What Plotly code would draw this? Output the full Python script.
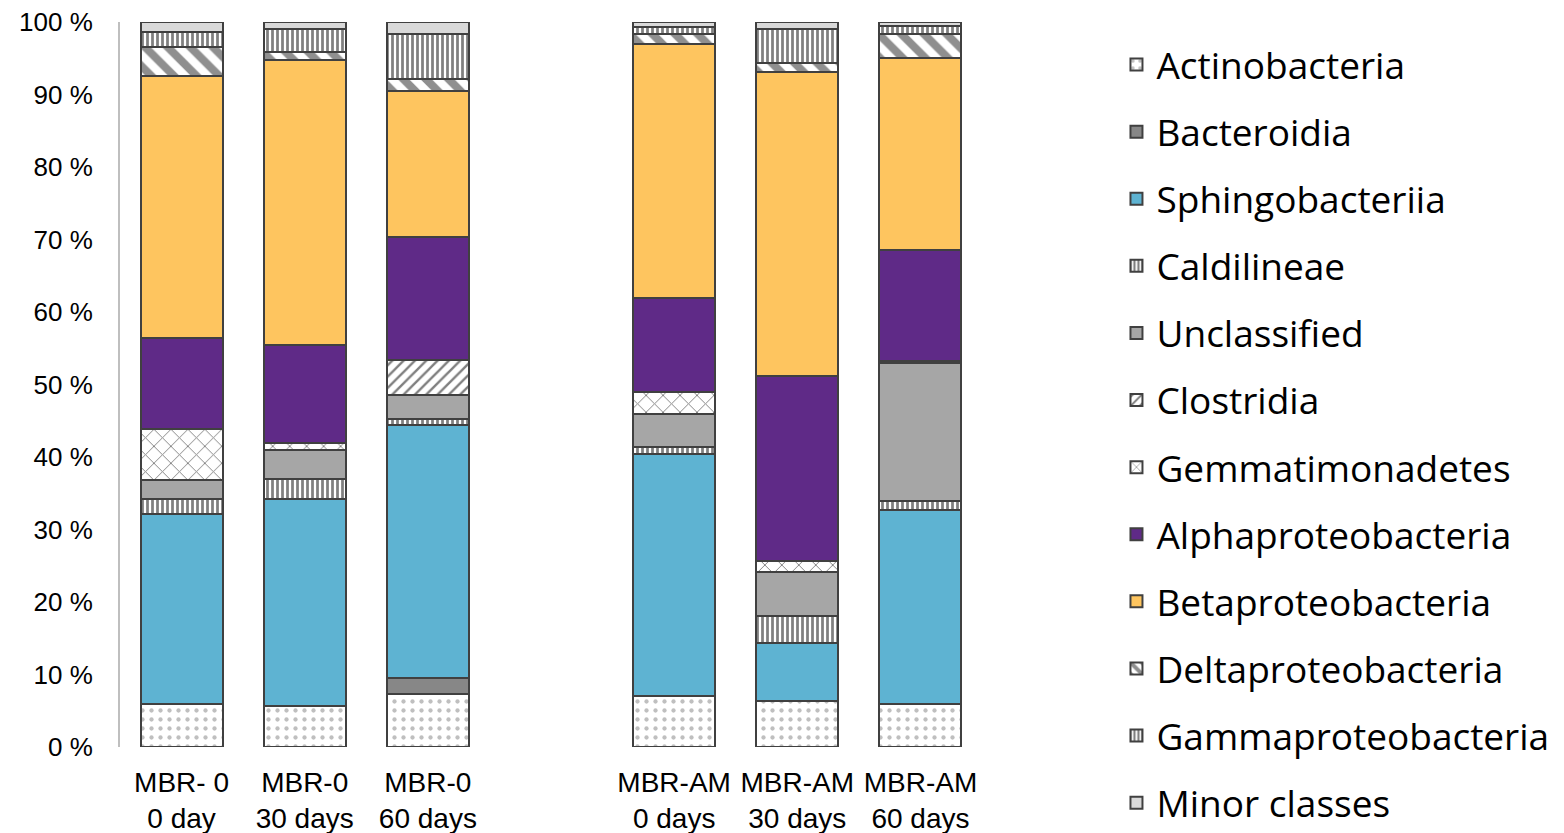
import plotly.graph_objects as go

categories = ["MBR- 0<br>0 day", "MBR-0<br>30 days", "MBR-0<br>60 days", " ",
              "MBR-AM<br>0 days", "MBR-AM<br>30 days", "MBR-AM<br>60 days"]
samples = ["MBR- 0<br>0 day", "MBR-0<br>30 days", "MBR-0<br>60 days",
           "MBR-AM<br>0 days", "MBR-AM<br>30 days", "MBR-AM<br>60 days"]

actinobacteria = [5.9, 5.6, 7.3, 7.0, 6.4, 5.9]
bacteroidia = [0.0, 0.0, 2.2, 0.0, 0.0, 0.0]
sphingobacteriia = [26.3, 28.6, 34.9, 33.4, 8.0, 26.8]
caldilineae = [2.0, 2.7, 0.9, 1.0, 3.7, 1.2]
unclassified = [2.6, 4.1, 3.3, 4.5, 6.0, 19.0]
clostridia = [0.0, 0.0, 4.8, 0.0, 0.0, 0.0]
gemmatimonadetes = [7.1, 1.0, 0.0, 3.0, 1.6, 0.3]
alphaproteobacteria = [12.5, 13.4, 17.0, 13.1, 25.5, 15.4]
betaproteobacteria = [36.1, 39.3, 20.1, 34.9, 41.9, 26.5]
deltaproteobacteria = [4.1, 1.2, 1.7, 1.4, 1.3, 3.2]
gammaproteobacteria = [2.0, 3.1, 6.1, 1.0, 4.6, 1.2]
minor_classes = [1.4, 1.0, 1.7, 0.7, 1.0, 0.5]

y_ticks = list(range(0, 101, 10))
y_ticktext = [f"{v} %" for v in y_ticks]

stripe = dict(shape="|", fgcolor="black", bgcolor="white", size=5, solidity=0.55)

series = [
    ("Actinobacteria", actinobacteria, dict(color="white", pattern=dict(shape=".", fgcolor="#7F7F7F", bgcolor="white", size=9, solidity=0.18))),
    ("Bacteroidia", bacteroidia, dict(color="#878787")),
    ("Sphingobacteriia", sphingobacteriia, dict(color="#5EB3D2")),
    ("Caldilineae", caldilineae, dict(color="white", pattern=stripe)),
    ("Unclassified", unclassified, dict(color="#A6A6A6")),
    ("Clostridia", clostridia, dict(color="white", pattern=dict(shape="/", fgcolor="black", bgcolor="white", size=8, solidity=0.3))),
    ("Gemmatimonadetes", gemmatimonadetes, dict(color="white", pattern=dict(shape="x", fgcolor="black", bgcolor="white", size=12, solidity=0.15))),
    ("Alphaproteobacteria", alphaproteobacteria, dict(color="#5F2A87")),
    ("Betaproteobacteria", betaproteobacteria, dict(color="#FEC55F")),
    ("Deltaproteobacteria", deltaproteobacteria, dict(color="white", pattern=dict(shape="\\", fgcolor="#202020", bgcolor="white", size=16, solidity=0.5))),
    ("Gammaproteobacteria", gammaproteobacteria, dict(color="white", pattern=stripe)),
    ("Minor classes", minor_classes, dict(color="#D9D9D9")),
]

fig = go.Figure()
for name, vals, mk in series:
    mk = dict(mk)
    mk["line"] = dict(color="#404040", width=2)
    fig.add_trace(go.Bar(x=samples, y=vals, name=name, legendgroup=name,
                         marker=mk))

# page has an 8px body margin; plot area should sit at page y 22..747, x 120..982
H = 833
mt, mb = 5, 5
gh = H - mt - mb
top_px, bot_px = 22 - 8, 747 - 8
dom_top = (H - mb - top_px) / gh
dom_bot = (H - mb - bot_px) / gh

fig.update_layout(
    width=1564, height=H,
    barmode="stack", bargap=0.335,
    plot_bgcolor="white", paper_bgcolor="white",
    margin=dict(l=112, r=590, t=mt, b=mb, autoexpand=False),
    font=dict(family="Liberation Sans, Arial", size=26, color="black"),
    legend=dict(x=1.156, xanchor="left", y=0.9745, yanchor="top",
                traceorder="grouped", tracegroupgap=16,
                font=dict(family="Open Sans", size=37, color="black"),
                itemwidth=30),
    showlegend=True,
)
fig.update_xaxes(type="category", categoryorder="array", categoryarray=categories,
                 range=[-0.5, 6.5], showline=False, ticks="", showgrid=False,
                 tickfont=dict(size=28), ticklabelstandoff=16,
                 ticklabeloverflow="allow")
fig.update_yaxes(domain=[dom_bot, dom_top], range=[0, 100],
                 tickvals=y_ticks, ticktext=y_ticktext,
                 showline=True, linecolor="#BFBFBF", linewidth=2,
                 showgrid=False, ticks="", zeroline=False,
                 tickfont=dict(size=26), ticklabelstandoff=20,
                 ticklabeloverflow="allow")

fig.write_html("out.html")
